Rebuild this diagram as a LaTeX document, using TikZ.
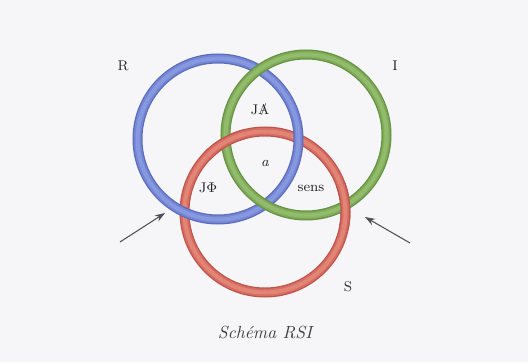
\documentclass[tikz,border=0pt]{standalone}
\usepackage{xcolor}
\usepackage{graphicx}
\usepackage{tikz}
\usetikzlibrary{arrows.meta}

\definecolor{pagebg}{RGB}{246,246,248}
\definecolor{bluering}{RGB}{116,134,212}
\definecolor{blueringdark}{RGB}{92,108,186}
\definecolor{blueringlight}{RGB}{134,152,224}
\definecolor{greenring}{RGB}{128,172,90}
\definecolor{greenringdark}{RGB}{100,146,66}
\definecolor{greenringlight}{RGB}{146,188,108}
\definecolor{redring}{RGB}{214,110,98}
\definecolor{redringdark}{RGB}{188,84,76}
\definecolor{redringlight}{RGB}{226,132,118}
\definecolor{arrowgray}{RGB}{80,80,84}

% one tube = three strokes, dark rim to light core
\newcommand{\tube}[2]{%
  \draw[line width=2mm, #1dark] #2;
  \draw[line width=1.5mm, #1] #2;
  \draw[line width=0.8mm, #1light] #2;}
\newsavebox{\abox}
\newcommand{\barredA}{\sbox{\abox}{A}\rlap{\usebox{\abox}}%
  \makebox[\wd\abox]{\raisebox{0.1em}{\scalebox{0.85}{/}}}}

\begin{document}
\begin{tikzpicture}[
  >={Stealth[length=2mm, width=1.4mm]},
  lbl/.style={font=\footnotesize, text=black!85, inner sep=1pt},
  pointer/.style={->, arrowgray, line width=0.6pt}]
\fill[pagebg] (0,0) rectangle (10.56,7.24);
% ring centres
\coordinate (rc) at (4.36,4.46);
\coordinate (ic) at (6.12,4.54);
\coordinate (sc) at (5.30,3.00);
% rings: S under R, R under I, then S back over I
\tube{redring}{(sc) circle (1.61)}
\tube{bluering}{(rc) circle (1.61)}
\tube{greenring}{(ic) circle (1.61)}
\tube{redring}{([shift={(104:1.61)}]sc) arc (104:136:1.61)}
\tube{redring}{([shift={(-12:1.61)}]sc) arc (-12:20:1.61)}
% labels
\node[lbl] (r) at (2.46,5.92) {R};
\node[lbl] (i) at (7.90,5.92) {I};
\node[lbl] (s) at (6.96,1.50) {S};
\node[lbl] (ja) at (5.20,5.04) {J\barredA};
\node[lbl] (a) at (5.30,3.98) {\itshape a};
\node[lbl] (jphi) at (4.16,3.48) {J$\Phi$};
\node[lbl] (sens) at (6.22,3.48) {sens};
\node[font=\itshape, text=black!75] (cap) at (5.30,0.60) {Schéma RSI};
% pointers
\coordinate (lt) at (2.40,2.40);
\coordinate (lh) at (3.30,2.98);
\coordinate (rt) at (8.20,2.38);
\coordinate (rh) at (7.30,2.90);
\draw[pointer] (lt) -- (lh);
\draw[pointer] (rt) -- (rh);
\end{tikzpicture}
\end{document}
